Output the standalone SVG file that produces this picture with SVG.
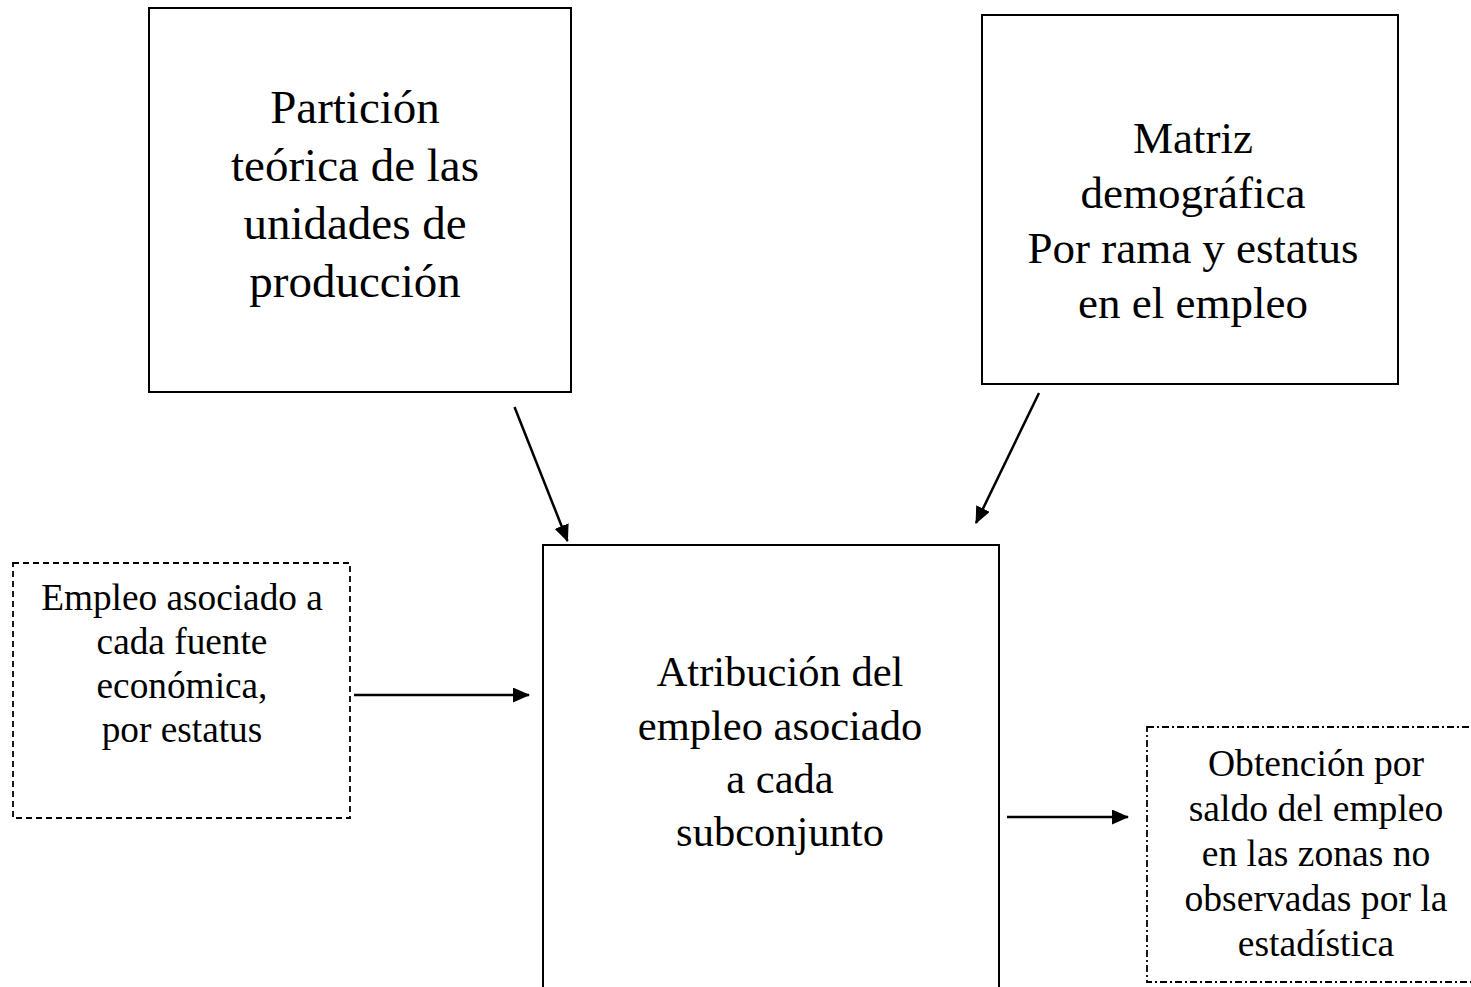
<svg xmlns="http://www.w3.org/2000/svg" width="1471" height="987" viewBox="0 0 1471 987">
<style>
.t{font-family:"Liberation Serif","Times New Roman",serif;fill:#000;text-anchor:middle}
.box{fill:#fff;stroke:#000;stroke-width:2}
.dash{fill:#fff;stroke:#000;stroke-width:1.8;stroke-dasharray:6 4}
.dashdot{fill:#fff;stroke:#000;stroke-width:1.8;stroke-dasharray:7 3 2 3}
.c{stroke:#000;stroke-width:2.5;fill:none;marker-end:url(#ah)}
</style>
<defs>
<marker id="ah" viewBox="0 0 17 15" refX="16" refY="7.5" markerWidth="17" markerHeight="15" markerUnits="userSpaceOnUse" orient="auto">
<path d="M0,0 L17,7.5 L0,15 z" fill="#000"/>
</marker>
</defs>
<rect width="1471" height="987" fill="#fff"/>
<g id="n1">
<rect class="box" x="149" y="8" width="422" height="384"/>
<text class="t" font-size="47" x="355"><tspan x="355" y="123">Partición</tspan><tspan x="355" y="181">teórica de las</tspan><tspan x="355" y="239">unidades de</tspan><tspan x="355" y="297">producción</tspan></text>
</g>
<g id="n2">
<rect class="box" x="982" y="15" width="416" height="369"/>
<text class="t" font-size="45" x="1193"><tspan x="1193" y="153">Matriz</tspan><tspan x="1193" y="208">demográfica</tspan><tspan x="1193" y="263">Por rama y estatus</tspan><tspan x="1193" y="318">en el empleo</tspan></text>
</g>
<g id="n3">
<rect class="box" x="543" y="545" width="456" height="460"/>
<text class="t" font-size="42.5" x="780"><tspan x="780" y="686">Atribución del</tspan><tspan x="780" y="740">empleo asociado</tspan><tspan x="780" y="793">a cada</tspan><tspan x="780" y="846">subconjunto</tspan></text>
</g>
<g id="n4">
<rect class="dash" x="13" y="563" width="337" height="255"/>
<text class="t" font-size="37.3" x="182"><tspan x="182" y="610">Empleo asociado a</tspan><tspan x="182" y="654">cada fuente</tspan><tspan x="182" y="698">económica,</tspan><tspan x="182" y="742">por estatus</tspan></text>
</g>
<g id="n5">
<rect class="dashdot" x="1147" y="727" width="340" height="255"/>
<text class="t" font-size="37.6" x="1316"><tspan x="1316" y="776">Obtención por</tspan><tspan x="1316" y="821">saldo del empleo</tspan><tspan x="1316" y="866">en las zonas no</tspan><tspan x="1316" y="911">observadas por la</tspan><tspan x="1316" y="956">estadística</tspan></text>
</g>
<g id="connectors">
<line class="c" x1="514.5" y1="407" x2="567.5" y2="541"/>
<line class="c" x1="1039" y1="393" x2="976" y2="523"/>
<line class="c" x1="354" y1="695" x2="529" y2="695"/>
<line class="c" x1="1007" y1="817" x2="1128" y2="817"/>
</g>
</svg>
